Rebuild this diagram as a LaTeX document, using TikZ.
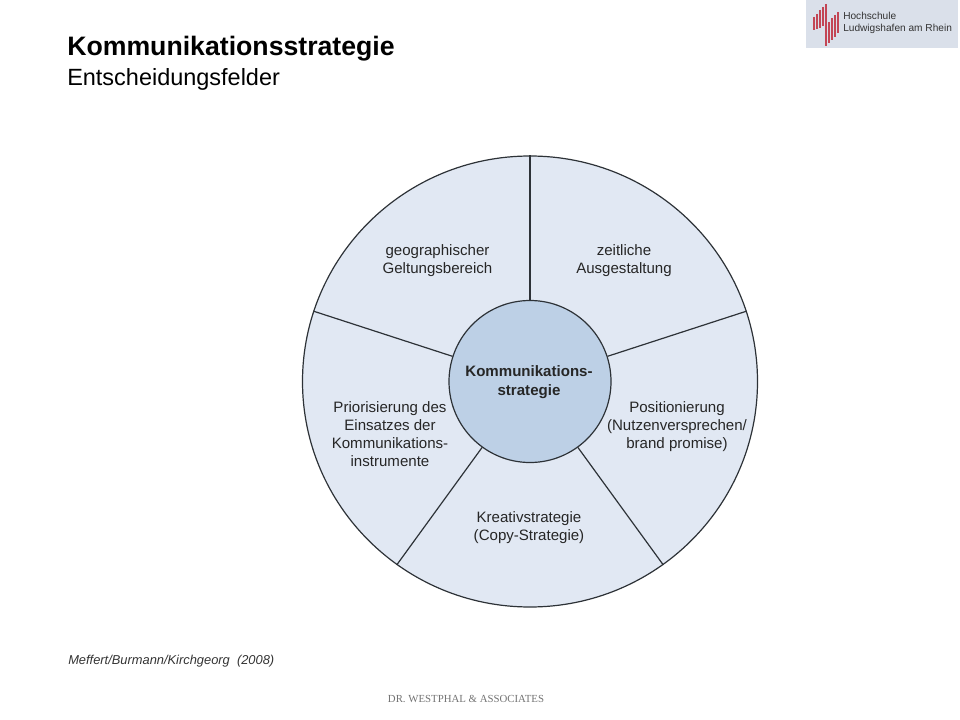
\documentclass[tikz,border=0pt]{standalone}
\usepackage{fontspec}
\setmainfont{Liberation Sans}
\newfontfamily\footfont{Liberation Serif}
\usepackage{xcolor}
\usetikzlibrary{shapes.geometric}
\definecolor{hwblue}{RGB}{225,232,243}
\definecolor{hwhub}{RGB}{189,208,230}
\definecolor{hwline}{RGB}{45,50,55}
\definecolor{hwlogo}{RGB}{218,224,234}
\definecolor{hwred}{RGB}{195,70,85}
\tikzset{
  field/.style={align=center, text=black!85, font=\fontsize{11.3}{13.5}\selectfont},
  spoke/.style={draw=hwline, line width=0.9pt},
  titlebox/.style={anchor=west, inner sep=0pt},
  stripe/.style={draw=hwred, line width=1.4pt}
}
\begin{document}
\begin{tikzpicture}[x=0.75pt, y=-0.75pt]
\useasboundingbox (0,0) rectangle (960,720);
% Title
\node[titlebox, font=\bfseries\fontsize{20}{24}\selectfont] (title) at (67,49) {Kommunikationsstrategie};
\node[titlebox, font=\fontsize{17.6}{21}\selectfont] (subtitle) at (67,79) {Entscheidungsfelder};
% Logo
\node[fill=hwlogo, minimum width=152*0.75pt, minimum height=48*0.75pt, inner sep=0pt] (logo) at (882,24) {};
\foreach \x/\a/\b in {814/17/30, 817/14/29, 820/10/28, 823/7/26, 826/4/46, 829/22/43, 832/18/40, 835/15/37, 838/12/33}
  \draw[stripe] (\x,\a) -- (\x,\b);
\node[titlebox, align=left, text=black!80, font=\fontsize{7.6}{9.5}\selectfont] (logotext) at (843,23) {Hochschule\\Ludwigshafen am Rhein};
% Wheel
\node[ellipse, draw=hwline, fill=hwblue, line width=0.9pt, minimum width=455*0.75pt, minimum height=451*0.75pt, inner sep=0pt] (rim) at (530,381.5) {};
\node[circle, draw=hwline, fill=hwhub, line width=0.9pt, minimum size=162*0.75pt, inner sep=0pt] (hub) at (530,381.5) {};
\foreach \ang in {90,18,-54,-126,162}
  \draw[spoke] (hub.\ang) -- (rim.\ang);
\node[align=center, text=black!85, font=\bfseries\fontsize{11.3}{14}\selectfont] (centre) at (529,382) {Kommunikations-\\strategie};
% Fields
\node[field] (geo) at (437.5,261) {geographischer\\Geltungsbereich};
\node[field] (zeit) at (624,261) {zeitliche\\Ausgestaltung};
\node[field] (pos) at (677,427) {Positionierung\\(Nutzenversprechen/\\brand promise)};
\node[field] (krea) at (529,528) {Kreativstrategie\\(Copy-Strategie)};
\node[field] (prio) at (390,434) {Priorisierung des\\Einsatzes der\\Kommunikations-\\instrumente};
% Footer
\node[titlebox, font=\itshape\fontsize{9.65}{12}\selectfont, text=black!80] (source) at (68,661) {Meffert/Burmann/Kirchgeorg\ \ (2008)};
\node[font=\footfont\fontsize{8.1}{10}\selectfont, text=black!55] (foot) at (466,699) {DR. WESTPHAL \& ASSOCIATES};
\end{tikzpicture}
\end{document}
